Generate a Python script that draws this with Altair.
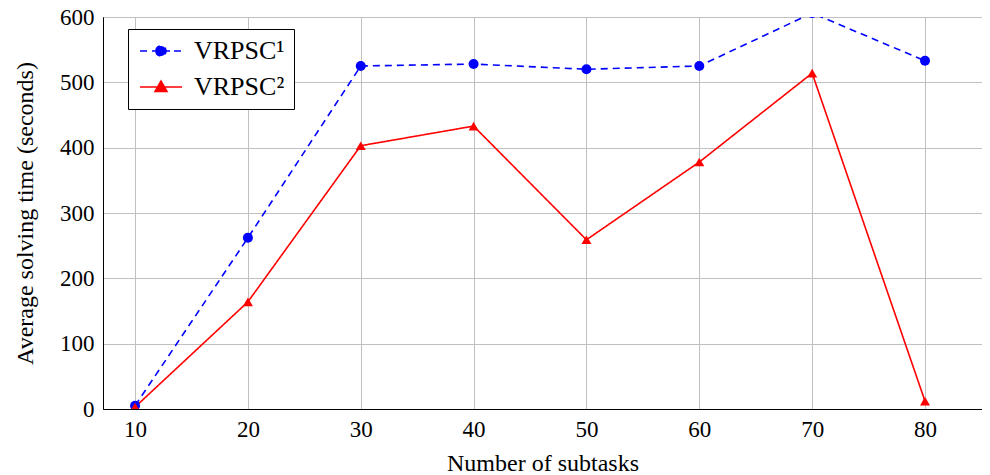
import altair as alt
import pandas as pd

subtasks = [10, 20, 30, 40, 50, 60, 70, 80]
vrpsc1 = [5, 262, 525, 528, 520, 525, 606, 533]
vrpsc2 = [3, 164, 403, 433, 259, 378, 514, 12]
series_names = ["VRPSC¹", "VRPSC²"]
series_colors = ["#0000ff", "#ff0000"]

rows = []
for name, vals in zip(series_names, [vrpsc1, vrpsc2]):
    for x, y in zip(subtasks, vals):
        rows.append({"n": x, "t": y, "s": name})
df = pd.DataFrame(rows)

FONT = "Liberation Serif"

circle_sym = ("M-2.1,0H-1.3M-0.9,0H0.9M1.3,0H2.1"
              "M-0.5,0A0.5,0.5,0,1,0,0.5,0A0.5,0.5,0,1,0,-0.5,0Z")
tri_sym = "M-2.1,0H2.1M-0.6,0.45L0,-0.6L0.6,0.45Z"

legend = alt.Legend(
    title=None, orient="none", legendX=25, legendY=12,
    fillColor="white", strokeColor="black", cornerRadius=0, padding=9,
    labelFont=FONT, labelFontSize=26, labelColor="black",
    symbolSize=400, symbolStrokeWidth=1.6, symbolOffset=11, labelOffset=20,
    symbolOpacity=1, rowPadding=10,
)

xs = alt.X("n:Q", title="Number of subtasks",
           scale=alt.Scale(domain=[7.16, 85.05], nice=False, zero=False),
           axis=alt.Axis(values=subtasks, grid=True))
ys = alt.Y("t:Q", title="Average solving time (seconds)",
           scale=alt.Scale(domain=[0, 600], nice=False),
           axis=alt.Axis(values=[0, 100, 200, 300, 400, 500, 600], grid=True))
cscale = alt.Scale(domain=series_names, range=series_colors)

lines = alt.Chart(df).mark_line(strokeWidth=1.6, clip=True).encode(
    x=xs, y=ys, color=alt.Color("s:N", scale=cscale),
    strokeDash=alt.StrokeDash("s:N", scale=alt.Scale(domain=series_names, range=[[7, 5], [1, 0]]), legend=None),
)
pts1 = alt.Chart(df).transform_filter(alt.datum.s == series_names[0]).mark_point(
    filled=True, opacity=1, size=100, shape="circle", clip=True).encode(
    x=xs, y=ys, color=alt.Color("s:N", scale=cscale))
pts2 = alt.Chart(df).transform_filter(alt.datum.s == series_names[1]).mark_point(
    filled=True, opacity=1, size=100, shape="triangle-up", clip=True).encode(
    x=xs, y=ys, color=alt.Color("s:N", scale=cscale))
leg = alt.Chart(df).mark_point(
    filled=True, opacity=0, size=400, strokeWidth=1.6, clip=True).encode(
    x=xs, y=ys,
    color=alt.Color("s:N", scale=cscale, legend=legend),
    stroke=alt.Stroke("s:N", scale=alt.Scale(domain=series_names, range=series_colors), legend=legend),
    shape=alt.Shape("s:N", scale=alt.Scale(domain=series_names, range=[circle_sym, tri_sym]), legend=legend),
)

chart = alt.layer(leg, lines, pts1, pts2).properties(
    width=879, height=392,
    autosize=alt.AutoSizeParams(type="none"),
    padding={"left": 95, "top": 9, "right": 0, "bottom": 66},
).configure_view(stroke="black", strokeWidth=1).configure_axis(
    labelFont=FONT, labelFontSize=23, labelColor="black",
    titleFont=FONT, titleFontSize=24, titleFontWeight="normal", titleColor="black",
    gridColor="#c0c0c0", gridWidth=1, domainColor="black", domainWidth=1,
    ticks=False, labelPadding=9,
).configure_axisX(titlePadding=10).configure_axisY(titlePadding=22)

chart.save("out.html", embed_options={"renderer": "svg", "actions": False})
